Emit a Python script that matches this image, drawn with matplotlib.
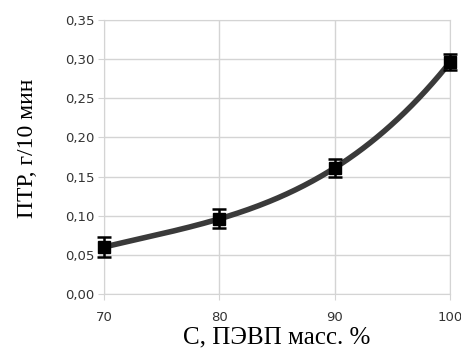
import numpy as np
import matplotlib
matplotlib.use("Agg")
import matplotlib.pyplot as plt
from matplotlib.ticker import FuncFormatter

conc = [70, 80, 90, 100]
mfr = [0.060, 0.096, 0.161, 0.296]
err = [0.013, 0.012, 0.012, 0.010]
xticks = [70, 80, 90, 100]
yticks = [0.00, 0.05, 0.10, 0.15, 0.20, 0.25, 0.30, 0.35]

fig = plt.figure(figsize=(4.61, 3.54), dpi=100)
ax = fig.add_axes([0.2256, 0.1695, 0.7505, 0.774])

coef = np.polyfit(conc, mfr, 3)
xs = np.linspace(min(conc), max(conc), 200)
ax.plot(xs, np.polyval(coef, xs), color="#3a3a3a", lw=4, zorder=3)
ax.errorbar(conc, mfr, yerr=err, fmt="s", color="black", ms=9, capsize=5,
            elinewidth=1.8, capthick=1.8, zorder=4, clip_on=False)

ax.set_xlim(70, 100)
ax.set_ylim(0, 0.35)
ax.set_xticks(xticks)
ax.set_yticks(yticks)
ax.yaxis.set_major_formatter(FuncFormatter(lambda v, p: f"{v:.2f}".replace(".", ",")))
ax.grid(True, color="#d4d4d4", lw=1)
ax.set_axisbelow(True)
for s in ax.spines.values():
    s.set_color("#d4d4d4")
ax.tick_params(axis="both", colors="#d4d4d4", labelcolor="#333333", labelsize=9.5, length=4)
ax.tick_params(axis="x", pad=8)
ax.tick_params(axis="y", pad=3)

ax.set_xlabel("С, ПЭВП масс. %", family="Liberation Serif", fontsize=18, labelpad=2)
ax.set_ylabel("ПТР, г/10 мин", family="Liberation Serif", fontsize=17)
ax.yaxis.set_label_coords(-0.19, 0.53)

fig.savefig("out.png", dpi=100)
